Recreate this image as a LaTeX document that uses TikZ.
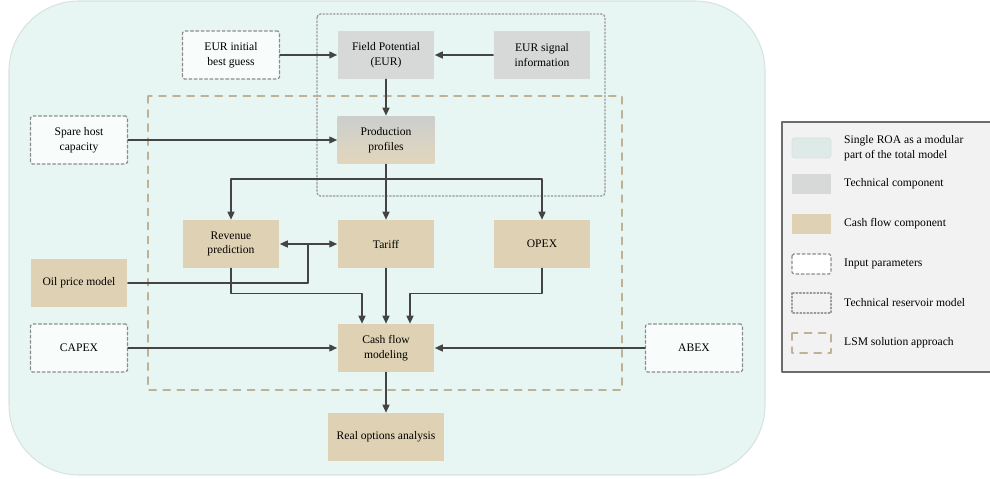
\documentclass[tikz,border=0pt]{standalone}
\usepackage{fontspec}
\setmainfont{Liberation Serif}
\usetikzlibrary{arrows.meta}
\definecolor{roabg}{HTML}{E8F6F3}
\definecolor{roaline}{HTML}{D6E4E1}
\definecolor{techfill}{HTML}{D6D9D8}
\definecolor{cashfill}{HTML}{DFD2B4}
\definecolor{lsmline}{HTML}{BDB196}
\definecolor{arrowcol}{HTML}{444444}

\begin{document}
\begin{tikzpicture}[line cap=round,line join=round,x=0.02cm,y=-0.02cm,
	font=\fontsize{6.6}{8.4}\selectfont,
	box/.style={minimum width=1.94cm,minimum height=0.96cm,align=center,inner sep=1pt},
	tech/.style={box,fill=techfill},
	cash/.style={box,fill=cashfill},
	inputbox/.style={box,fill=white!70!roabg,draw=gray!90,line width=0.7pt,dash pattern=on 1.6pt off 1.4pt,rounded corners=1pt},
	link/.style={draw=arrowcol,line width=0.7pt,-{Triangle[length=4.5pt,width=4pt]}}]
			\useasboundingbox (0,0) rectangle (990,479);
			% single ROA
			\draw [fill=roabg,draw=roaline,line width=0.6pt,rounded corners=1.4cm] (9,1) rectangle (765,475);
			% technical reservoir model and LSM
			\draw [draw=gray!80,line width=0.8pt,dash pattern=on 0.8pt off 1.2pt,rounded corners=2pt] (317,14) rectangle (605,196);
			\draw [draw=lsmline,line width=1pt,dash pattern=on 4pt off 4pt] (148,96) rectangle (622,390);
			% nodes
			\node [inputbox] (eurinit) at (231,55) {EUR initial\\best guess};
			\node [tech] (field) at (386,55) {Field Potential\\(EUR)};
			\node [tech] (signal) at (542,55) {EUR signal\\information};
			\node [inputbox] (spare) at (79,140) {Spare host\\capacity};
			\node [box,top color=techfill!95!black,bottom color=cashfill!90!white] (prod) at (386,140) {Production\\profiles};
			\node [cash] (revenue) at (231,244) {Revenue\\prediction};
			\node [cash] (tariff) at (386,244) {Tariff};
			\node [cash] (opex) at (542,244) {OPEX};
			\node [cash] (oil) at (79,283) {Oil price model};
			\node [inputbox] (capex) at (79,348) {CAPEX};
			\node [cash] (cashflow) at (386,348) {Cash flow\\modeling};
			\node [inputbox] (abex) at (694,348) {ABEX};
			\node [cash,minimum width=2.32cm] (roa) at (386,437) {Real options analysis};
			\coordinate (split) at (386,179);
			\coordinate (oiljoin) at (308,244);
			% connectors
			\draw [link] (eurinit) -- (field);
			\draw [link] (signal) -- (field);
			\draw [link] (field) -- (prod);
			\draw [link] (spare) -- (prod);
			\draw [link] (prod) -- (tariff);
			\draw [link] (split) -| (revenue.north);
			\draw [link] (split) -| (opex.north);
			\draw [draw=arrowcol,line width=0.7pt] (oil.east) -| (oiljoin);
			\draw [link] (oiljoin) -- (revenue.east);
			\draw [link] (oiljoin) -- (tariff.west);
			\draw [link] (revenue.south) -- ++(0,25) -| ([xshift=-0.48cm]cashflow.north);
			\draw [link] (tariff) -- (cashflow);
			\draw [link] (opex.south) -- ++(0,25) -| ([xshift=0.48cm]cashflow.north);
			\draw [link] (capex) -- (cashflow);
			\draw [link] (abex) -- (cashflow);
			\draw [link] (cashflow) -- (roa);
			% legend
			\draw [fill=gray!10,draw=gray!85!black,line width=0.9pt] (782,122) rectangle (1000,372);
			\draw [fill=roabg!90!gray,draw=roaline,rounded corners=1.5pt] (792,138) rectangle (831,158);
			\draw [fill=techfill,draw=none] (792,174) rectangle (831,194);
			\draw [fill=cashfill,draw=none] (792,214) rectangle (831,234);
			\draw [fill=white,draw=gray!90,line width=0.7pt,dash pattern=on 1.6pt off 1.4pt,rounded corners=1pt] (792,254) rectangle (831,274);
			\draw [draw=gray!80,line width=0.8pt,dash pattern=on 0.8pt off 1.2pt] (792,293) rectangle (831,313);
			\draw [draw=lsmline,line width=1pt,dash pattern=on 4pt off 4pt] (792,333) rectangle (831,353);
			\node [anchor=west,align=left] (legroa) at (838,148) {Single ROA as a modular\\part of the total model};
			\node [anchor=west] (legtech) at (838,184) {Technical component};
			\node [anchor=west] (legcash) at (838,224) {Cash flow component};
			\node [anchor=west] (leginput) at (838,264) {Input parameters};
			\node [anchor=west] (legres) at (838,303) {Technical reservoir model};
			\node [anchor=west] (leglsm) at (838,343) {LSM solution approach};
		\end{tikzpicture}
\end{document}
